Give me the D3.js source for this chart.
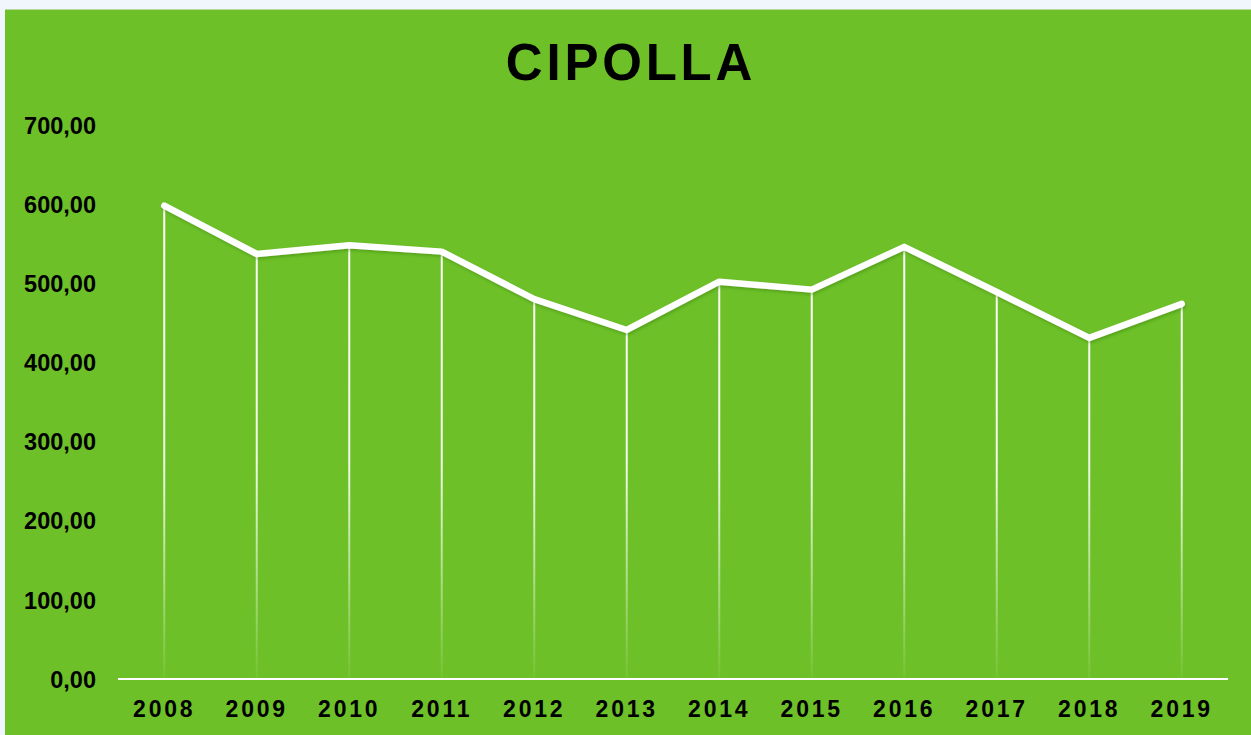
<!DOCTYPE html>
<html>
<head>
<meta charset="utf-8">
<script src="https://cdn.jsdelivr.net/npm/d3@7"></script>
<style>
  html, body { margin: 0; padding: 0; background: #f1f6fc; }
  svg { display: block; }
</style>
</head>
<body>
<script>
const title = "CIPOLLA";
const years = ["2008","2009","2010","2011","2012","2013","2014","2015","2016","2017","2018","2019"];
const values = [598, 537, 548, 540, 480, 441, 502, 492, 546, 489, 431, 474];
const yTicks = [0, 100, 200, 300, 400, 500, 600, 700];

const W = 1251, H = 735;
const svg = d3.select("body").append("svg").attr("width", W).attr("height", H);

const defs = svg.append("defs");
const grad = defs.append("linearGradient").attr("id", "dropGrad")
  .attr("gradientUnits", "userSpaceOnUse")
  .attr("x1", 0).attr("x2", 0).attr("y1", 200).attr("y2", 679);
grad.append("stop").attr("offset", "0%").attr("stop-color", "#fff").attr("stop-opacity", 1);
grad.append("stop").attr("offset", "55%").attr("stop-color", "#fff").attr("stop-opacity", 0.9);
grad.append("stop").attr("offset", "100%").attr("stop-color", "#fff").attr("stop-opacity", 0.05);

const shadow = defs.append("filter").attr("id", "shadow")
  .attr("x", "-5%").attr("y", "-20%").attr("width", "110%").attr("height", "140%");
shadow.append("feDropShadow").attr("dx", 1).attr("dy", 2).attr("stdDeviation", 1.5)
  .attr("flood-color", "#2f6a00").attr("flood-opacity", 0.35);

// panel
svg.append("rect").attr("x", 5).attr("y", 9).attr("width", W - 5).attr("height", H - 9)
  .attr("fill", "#6dc028");
svg.append("line").attr("x1", 5).attr("x2", W).attr("y1", 9.5).attr("y2", 9.5)
  .attr("stroke", "#b9d7a0").attr("stroke-width", 1);

const x = d3.scaleBand().domain(years).range([118, 1228]);
const y = d3.scaleLinear().domain([0, 700]).range([679, 125]);

// title
svg.append("text").attr("x", 631).attr("y", 80)
  .attr("text-anchor", "middle")
  .attr("font-family", "'Liberation Sans', Arial, sans-serif")
  .attr("font-weight", "bold").attr("font-size", 51)
  .attr("letter-spacing", 3.8)
  .attr("fill", "#000").text(title);

// y labels
const yAxis = d3.axisLeft(y).tickValues(yTicks)
  .tickFormat(d => d3.format(".2f")(d).replace(".", ","))
  .tickSize(0).tickPadding(0);
const yg = svg.append("g").attr("transform", "translate(96,0)").call(yAxis);
yg.select(".domain").remove();
yg.selectAll("text")
  .attr("font-family", "'Liberation Sans', Arial, sans-serif")
  .attr("font-weight", "bold").attr("font-size", 23.5).attr("fill", "#000")
  .attr("dy", "0.35em");

// x labels
const xAxis = d3.axisBottom(x).tickSize(0).tickPadding(0);
const xg = svg.append("g").attr("transform", "translate(0,717)").call(xAxis);
xg.select(".domain").remove();
xg.selectAll("text")
  .attr("font-family", "'Liberation Sans', Arial, sans-serif")
  .attr("font-weight", "bold").attr("font-size", 23).attr("fill", "#000")
  .attr("letter-spacing", 2.8)
  .attr("dy", 0)
  .attr("dx", 0);

// drop lines
const cx = d => x(d) + x.bandwidth() / 2;
svg.append("g").selectAll("line").data(years).join("line")
  .attr("x1", d => cx(d)).attr("x2", d => cx(d))
  .attr("y1", (d, i) => y(values[i])).attr("y2", y(0))
  .attr("stroke", "url(#dropGrad)").attr("stroke-width", 2);

// baseline
svg.append("line").attr("x1", 118).attr("x2", 1228).attr("y1", y(0)).attr("y2", y(0))
  .attr("stroke", "#fff").attr("stroke-width", 2);

// main line
const line = d3.line().x((d, i) => cx(years[i])).y(d => y(d));
svg.append("path").datum(values).attr("d", line)
  .attr("fill", "none").attr("stroke", "#fff").attr("stroke-width", 6.5)
  .attr("stroke-linecap", "round").attr("stroke-linejoin", "round")
  .attr("filter", "url(#shadow)");
</script>
</body>
</html>
